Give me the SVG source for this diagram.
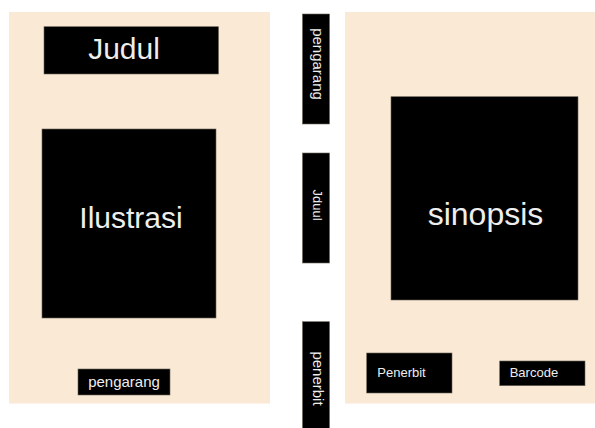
<svg xmlns="http://www.w3.org/2000/svg" width="595" height="428" viewBox="0 0 595 428">
<style>
.panel{fill:#f9e9d5}
.box{fill:#000;stroke:#6b6457;stroke-width:0.6}
.t{fill:#eeeeee;font-family:"Liberation Sans",Arial,sans-serif;text-anchor:middle}
</style>
<rect x="0" y="0" width="595" height="428" fill="#fff"/>
<g id="front-cover"><rect class="panel" x="9" y="12" width="261" height="391.5"/></g>
<g id="back-cover"><rect class="panel" x="345" y="12" width="250" height="391.5"/></g>
<g id="judul"><rect class="box" x="44" y="26.7" width="174.5" height="47.3"/><text class="t" x="124" y="59" font-size="30">Judul</text></g>
<g id="ilustrasi"><rect class="box" x="42" y="129" width="174" height="189"/><text class="t" x="131" y="228" font-size="30">Ilustrasi</text></g>
<g id="pengarang-front"><rect class="box" x="78" y="369" width="92" height="26"/><text class="t" x="124" y="387" font-size="15">pengarang</text></g>
<g id="pengarang-spine"><rect class="box" x="302.5" y="14" width="27" height="110"/><text class="t" transform="translate(313,64) rotate(90)" font-size="15">pengarang</text></g>
<g id="judul-spine"><rect class="box" x="302.5" y="153" width="27" height="110"/><text class="t" transform="translate(313,205) rotate(90)" font-size="13">Jduul</text></g>
<g id="penerbit-spine"><rect class="box" x="302.5" y="321.7" width="27" height="112"/><text class="t" transform="translate(313,378.5) rotate(90)" font-size="15">penerbit</text></g>
<g id="sinopsis"><rect class="box" x="391" y="96.7" width="187" height="203.3"/><text class="t" x="485.5" y="225" font-size="32">sinopsis</text></g>
<g id="penerbit"><rect class="box" x="366.7" y="353" width="85.3" height="40"/><text class="t" x="377.3" y="377" font-size="13" style="text-anchor:start">Penerbit</text></g>
<g id="barcode"><rect class="box" x="499.7" y="361" width="85.3" height="24.7"/><text class="t" x="509.7" y="377" font-size="13" style="text-anchor:start">Barcode</text></g>
<g id="connectors"></g>
</svg>
